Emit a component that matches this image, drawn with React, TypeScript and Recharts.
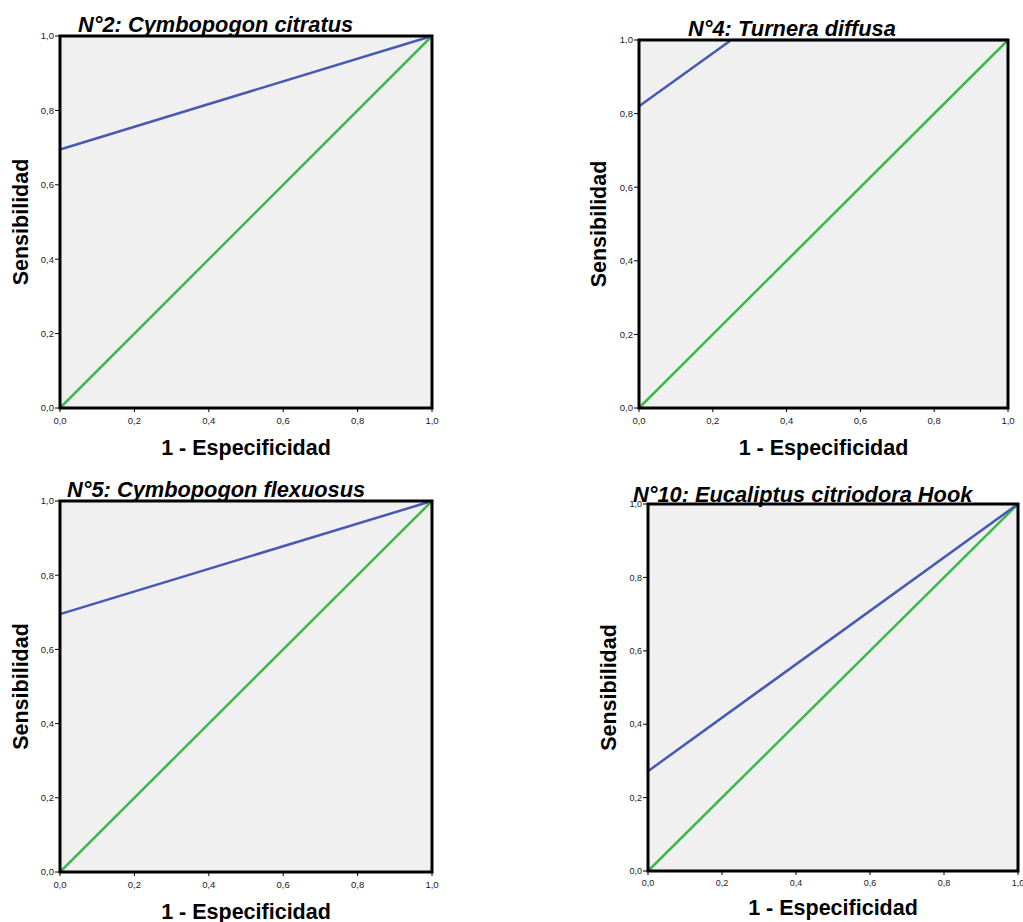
import React from 'react';
import { LineChart, Line, XAxis, YAxis, ReferenceArea } from 'recharts';

const axisTicks = [0, 0.2, 0.4, 0.6, 0.8, 1];
const titles = [
  'N°2: Cymbopogon citratus',
  'N°4: Turnera diffusa',
  'N°5: Cymbopogon flexuosus',
  'N°10: Eucaliptus citriodora Hook',
];
const xAxisLabel = '1 - Especificidad';
const yAxisLabel = 'Sensibilidad';

const citratusFpr = [0, 1];
const citratusSens = [0.695, 1];
const turneraFpr = [0, 0.25, 1];
const turneraSens = [0.82, 1, 1];
const flexuosusFpr = [0, 1];
const flexuosusSens = [0.695, 1];
const eucaliptusFpr = [0, 1];
const eucaliptusSens = [0.272, 1];
const refFpr = [0, 1];
const refSens = [0, 1];

function buildData(fpr: number[], sens: number[]) {
  const xs = Array.from(new Set([...fpr, ...refFpr])).sort((a, b) => a - b);
  return xs.map((x) => {
    const i = fpr.indexOf(x);
    const j = refFpr.indexOf(x);
    return { x, roc: i >= 0 ? sens[i] : null, ref: j >= 0 ? refSens[j] : null };
  });
}

const datasets = [
  buildData(citratusFpr, citratusSens),
  buildData(turneraFpr, turneraSens),
  buildData(flexuosusFpr, flexuosusSens),
  buildData(eucaliptusFpr, eucaliptusSens),
];

const layouts = [
  { left: 0, top: 0, width: 450, height: 465, mTop: 36, mRight: 18, xLabelOffset: 10, yLabelX: 20, tickFont: 9.5, titleX: 78, titleTop: 14 },
  { left: 579, top: 0, width: 444, height: 465, mTop: 40, mRight: 15, xLabelOffset: 10, yLabelX: 19, tickFont: 9.5, titleX: 688, titleTop: 18 },
  { left: 0, top: 465, width: 450, height: 464, mTop: 36, mRight: 18, xLabelOffset: 10, yLabelX: 20, tickFont: 9.5, titleX: 67, titleTop: 479 },
  { left: 588, top: 465, width: 435, height: 463, mTop: 39, mRight: 5, xLabelOffset: 13, yLabelX: 20, tickFont: 9, titleX: 633, titleTop: 484 },
];

const fmt = (v: number) => v.toFixed(1).replace('.', ',');
const FONT = "'Liberation Sans', Arial, sans-serif";
const BLUE = '#4759b3';
const GREEN = '#3cb94a';

function Panel({ idx }: { idx: number }) {
  const L = layouts[idx];
  const tickStyle = { fontSize: L.tickFont, fill: '#1a1a1a', fontFamily: FONT };
  return (
    <div style={{ position: 'absolute', left: L.left, top: L.top }}>
      <LineChart
        width={L.width}
        height={L.height}
        data={datasets[idx]}
        margin={{ top: L.mTop, right: L.mRight, bottom: 0, left: 0 }}
      >
        <XAxis
          type="number"
          dataKey="x"
          domain={[0, 1]}
          ticks={axisTicks}
          tickFormatter={fmt}
          interval={0}
          height={57}
          tickSize={4}
          tickMargin={5}
          axisLine={false}
          tickLine={{ stroke: '#000', strokeWidth: 1 }}
          tick={tickStyle}
          label={{
            value: xAxisLabel,
            position: 'insideBottom',
            offset: L.xLabelOffset,
            style: { fontSize: 21.5, fontWeight: 'bold', fill: '#000', fontFamily: FONT },
          }}
        />
        <YAxis
          type="number"
          domain={[0, 1]}
          ticks={axisTicks}
          tickFormatter={fmt}
          interval={0}
          width={60}
          tickSize={5}
          tickMargin={1}
          axisLine={false}
          tickLine={{ stroke: '#000', strokeWidth: 1 }}
          tick={tickStyle}
          label={{
            value: yAxisLabel,
            angle: -90,
            position: 'insideLeft',
            offset: L.yLabelX,
            style: { fontSize: 21.5, fontWeight: 'bold', fill: '#000', fontFamily: FONT, textAnchor: 'middle' },
          }}
        />
        <ReferenceArea x1={0} x2={1} y1={0} y2={1} fill="#f0f0f0" fillOpacity={1} stroke="none" />
        <Line
          type="linear"
          dataKey="ref"
          stroke={GREEN}
          strokeWidth={2.5}
          dot={false}
          activeDot={false}
          connectNulls
          isAnimationActive={false}
        />
        <Line
          type="linear"
          dataKey="roc"
          stroke={BLUE}
          strokeWidth={2.5}
          dot={false}
          activeDot={false}
          connectNulls
          isAnimationActive={false}
        />
        <ReferenceArea
          x1={0}
          x2={1}
          y1={0}
          y2={1}
          fill="none"
          fillOpacity={0}
          stroke="#000"
          strokeWidth={3}
          {...({ zIndex: 2000 } as any)}
        />
      </LineChart>
    </div>
  );
}

export default function App() {
  return (
    <div
      style={{
        position: 'absolute',
        left: 0,
        top: 0,
        width: 1023,
        height: 922,
        overflow: 'hidden',
        background: '#fff',
        fontFamily: FONT,
      }}
    >
      {[0, 1, 2, 3].map((i) => (
        <Panel key={i} idx={i} />
      ))}
      {titles.map((t, i) => (
        <div
          key={t}
          style={{
            position: 'absolute',
            left: layouts[i].titleX,
            top: layouts[i].titleTop,
            fontSize: 21.8,
            lineHeight: 1,
            fontWeight: 'bold',
            fontStyle: 'italic',
            whiteSpace: 'nowrap',
            color: '#000',
            fontFamily: FONT,
          }}
        >
          {t}
        </div>
      ))}
    </div>
  );
}
